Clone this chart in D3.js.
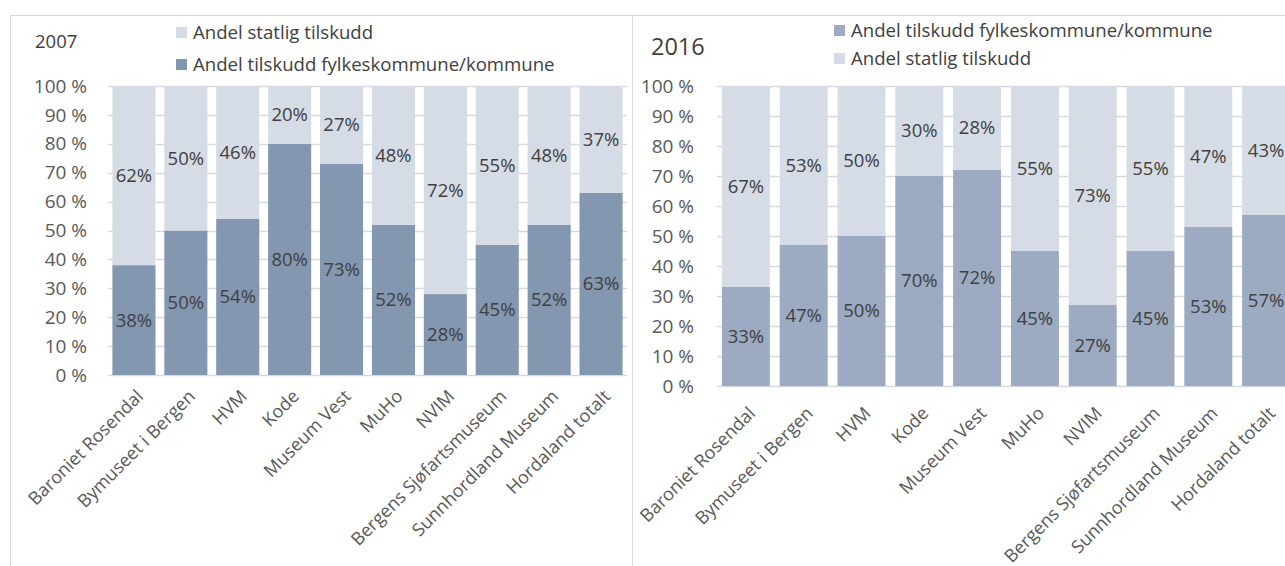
<!DOCTYPE html>
<html>
<head>
<meta charset="utf-8">
<script src="https://cdn.jsdelivr.net/npm/d3@7"></script>
<style>
  body { margin: 0; background: #fff; }
  svg { display: block; font-family: "Open Sans", sans-serif; }
</style>
</head>
<body>
<svg id="chart" width="1285" height="566"></svg>
<script>
// data
const categories = ["Baroniet Rosendal", "Bymuseet i Bergen", "HVM", "Kode", "Museum Vest",
  "MuHo", "NVIM", "Bergens Sjøfartsmuseum", "Sunnhordland Museum", "Hordaland totalt"];
const kommune2007 = [38, 50, 54, 80, 73, 52, 28, 45, 52, 63];
const statlig2007 = [62, 50, 46, 20, 27, 48, 72, 55, 48, 37];
const kommune2016 = [33, 47, 50, 70, 72, 45, 27, 45, 53, 57];
const statlig2016 = [67, 53, 50, 30, 28, 55, 73, 55, 47, 43];
const yTicks = [0, 10, 20, 30, 40, 50, 60, 70, 80, 90, 100];
const labelKommune = "Andel tilskudd fylkeskommune/kommune";
const labelStatlig = "Andel statlig tilskudd";

const svg = d3.select("#chart");
const lightColor = "#d6dce5";
const gridColor = "#d9d9d9";

// panel frames
svg.append("rect").attr("x", 10.5).attr("y", 15.5).attr("width", 622).attr("height", 600)
  .attr("fill", "none").attr("stroke", gridColor);
svg.append("rect").attr("x", 632.5).attr("y", 15.5).attr("width", 700).attr("height", 600)
  .attr("fill", "none").attr("stroke", gridColor);

function drawChart(o) {
  const g = svg.append("g");
  const x = d3.scaleBand().domain(categories).range([o.left, o.right])
    .paddingInner(0.17).paddingOuter(0.085);
  const y = d3.scaleLinear().domain([0, 100]).range([o.bottom, o.top]);

  // gridlines
  g.selectAll(".grid").data(yTicks).join("line")
    .attr("x1", o.left).attr("x2", o.gridEnd)
    .attr("y1", d => Math.round(y(d)) + 0.5).attr("y2", d => Math.round(y(d)) + 0.5)
    .attr("stroke", gridColor).attr("stroke-width", 1.3);

  // y axis labels
  g.selectAll(".ytick").data(yTicks).join("text")
    .attr("x", o.left - o.tickGap).attr("y", d => y(d)).attr("dy", "0.35em")
    .attr("text-anchor", "end").attr("font-size", 19).attr("fill", "#595959")
    .text(d => d + " %");

  const rows = categories.map((c, i) => ({ cat: c, kommune: o.kommune[i], statlig: o.statlig[i] }));
  const stacked = d3.stack().keys(["kommune", "statlig"])(rows);
  const colors = { kommune: o.dark, statlig: lightColor };

  stacked.forEach(layer => {
    g.selectAll(".bar-" + layer.key).data(layer).join("rect")
      .attr("x", d => x(d.data.cat)).attr("width", x.bandwidth())
      .attr("y", d => y(d[1])).attr("height", d => y(d[0]) - y(d[1]))
      .attr("fill", colors[layer.key]);
    g.selectAll(".lbl-" + layer.key).data(layer).join("text")
      .attr("x", d => x(d.data.cat) + x.bandwidth() / 2)
      .attr("y", d => y((d[0] + d[1]) / 2)).attr("dy", "0.35em")
      .attr("text-anchor", "middle").attr("font-size", 18.5).attr("fill", "#404040")
      .text(d => (d[1] - d[0]) + "%");
  });

  // category labels, rotated
  g.selectAll(".xlab").data(categories).join("text")
    .attr("transform", d => `translate(${x(d) + x.bandwidth() / 2 + 6},${o.bottom + o.labelGap}) rotate(-45)`)
    .attr("text-anchor", "end").attr("dy", "0.35em")
    .attr("font-size", 18).attr("fill", "#595959")
    .text(d => d);

  // title
  g.append("text").attr("x", o.titleX).attr("y", o.titleY).attr("dy", "0.35em")
    .attr("font-size", o.titleSize).attr("fill", "#404040").text(o.title);

  // legend
  o.legend.forEach((key, i) => {
    const ly = o.legendY[i];
    g.append("rect").attr("x", o.legendX).attr("y", ly - 5).attr("width", 11).attr("height", 11)
      .attr("fill", colors[key]);
    g.append("text").attr("x", o.legendX + 17).attr("y", ly).attr("dy", "0.35em")
      .attr("font-size", 18.6).attr("fill", "#404040")
      .text(key === "kommune" ? labelKommune : labelStatlig);
  });
}

drawChart({
  title: "2007", titleX: 35, titleY: 42, titleSize: 18.5,
  kommune: kommune2007, statlig: statlig2007, dark: "#8497b0",
  left: 108, right: 627, gridEnd: 627, top: 86, bottom: 375, labelGap: 18, tickGap: 21,
  legend: ["statlig", "kommune"], legendX: 176, legendY: [32, 64]
});

drawChart({
  title: "2016", titleX: 651, titleY: 47, titleSize: 23.5,
  kommune: kommune2016, statlig: statlig2016, dark: "#9cabc1",
  left: 717, right: 1295, gridEnd: 1295, top: 86, bottom: 386, labelGap: 24, tickGap: 23,
  legend: ["kommune", "statlig"], legendX: 834, legendY: [30, 58]
});
</script>
</body>
</html>
